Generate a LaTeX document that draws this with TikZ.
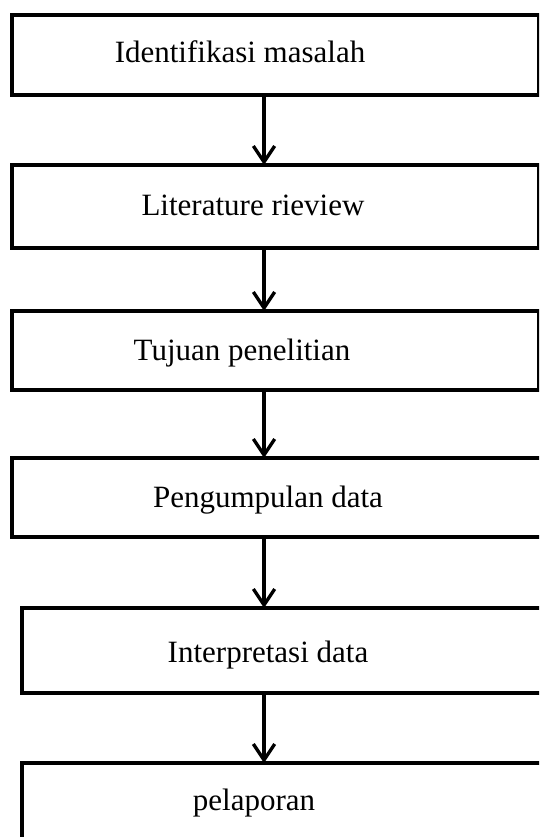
\documentclass[tikz,border=0pt]{standalone}
\usepackage{fontspec}
\setmainfont{Liberation Serif}
\usetikzlibrary{arrows.meta}

\begin{document}
\begin{tikzpicture}[
            x=0.75pt, y=-0.75pt,
            box/.style={draw, rectangle, line width=3pt, inner sep=0pt, outer sep=0pt},
            lbl/.style={anchor=base, inner sep=0pt, font=\fontsize{23.25}{28}\selectfont},
            flow/.style={line width=2.5pt, -{Straight Barb[length=12pt, width=16pt]}}
            ]
        \useasboundingbox (0,0) rectangle (539,837);
        \clip (0,0) rectangle (539,837);

        \path coordinate (arrx) at (264,0);

        \node[box, minimum width=395.25pt, minimum height=60pt] (identifikasi) at (275.5,55) {};
        \node[box, minimum width=395.25pt, minimum height=62.25pt] (literatur) at (275.5,206.5) {};
        \node[box, minimum width=395.25pt, minimum height=59.25pt] (tujuan) at (275.5,350.5) {};
        \node[box, minimum width=411pt, minimum height=59.25pt] (pengumpulan) at (286,497.5) {};
        \node[box, minimum width=403.5pt, minimum height=63.75pt] (interpretasi) at (291,650.5) {};
        \node[box, minimum width=403.5pt, minimum height=72.75pt] (pelaporan) at (291,811.5) {};

        \node[lbl] (t-identifikasi) at (240,63) {Identifikasi masalah};
        \node[lbl] (t-literatur) at (253,216) {Literature rieview};
        \node[lbl] (t-tujuan) at (242,360) {Tujuan penelitian};
        \node[lbl] (t-pengumpulan) at (268,507) {Pengumpulan data};
        \node[lbl] (t-interpretasi) at (268,662) {Interpretasi data};
        \node[lbl] (t-pelaporan) at (254,810) {pelaporan};

        \draw[flow] (identifikasi.south -| arrx) -- (literatur.north -| arrx);
        \draw[flow] (literatur.south -| arrx) -- (tujuan.north -| arrx);
        \draw[flow] (tujuan.south -| arrx) -- (pengumpulan.north -| arrx);
        \draw[flow] (pengumpulan.south -| arrx) -- (interpretasi.north -| arrx);
        \draw[flow] (interpretasi.south -| arrx) -- (pelaporan.north -| arrx);
    \end{tikzpicture}
\end{document}
